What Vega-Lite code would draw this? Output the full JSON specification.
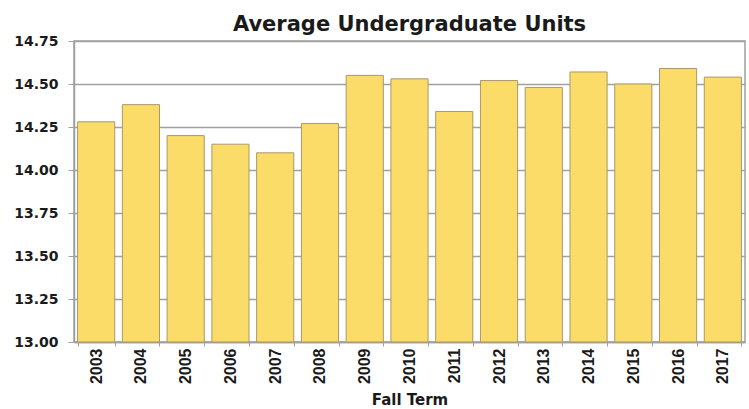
{
  "$schema": "https://vega.github.io/schema/vega-lite/v6.json",
  "width": 671,
  "height": 301,
  "autosize": "none",
  "padding": {"left": 74, "top": 41, "right": 4, "bottom": 67},
  "background": "white",
  "title": {"text": "Average Undergraduate Units", "font": "DejaVu Sans", "fontSize": 21, "fontWeight": "bold", "color": "#1a1a1a", "anchor": "middle", "offset": -1},
  "config": {
    "view": {"stroke": "#a0a0a0", "strokeWidth": 1.5},
    "font": "DejaVu Sans"
  },
  "data": {"values": [
    {"year": "2003", "units": 14.28},
    {"year": "2004", "units": 14.38},
    {"year": "2005", "units": 14.20},
    {"year": "2006", "units": 14.15},
    {"year": "2007", "units": 14.10},
    {"year": "2008", "units": 14.27},
    {"year": "2009", "units": 14.55},
    {"year": "2010", "units": 14.53},
    {"year": "2011", "units": 14.34},
    {"year": "2012", "units": 14.52},
    {"year": "2013", "units": 14.48},
    {"year": "2014", "units": 14.57},
    {"year": "2015", "units": 14.50},
    {"year": "2016", "units": 14.59},
    {"year": "2017", "units": 14.54}
  ]},
  "mark": {"type": "bar", "fill": "#fcdc68", "stroke": "#a8996a", "strokeWidth": 1},
  "encoding": {
    "x": {
      "field": "year", "type": "ordinal",
      "scale": {"paddingInner": 0.17, "paddingOuter": 0.08},
      "axis": {
        "title": "Fall Term", "titleFont": "DejaVu Sans", "titleFontSize": 15, "titleFontWeight": "bold", "titleColor": "#1a1a1a", "titlePadding": 9,
        "labelAngle": -90, "labelFont": "Liberation Sans", "labelFontSize": 16, "labelFontWeight": "bold", "labelColor": "#1a1a1a", "labelPadding": 2,
        "tickBand": "extent", "tickColor": "#a0a0a0", "tickSize": 4, "domainColor": "#a0a0a0", "domainWidth": 1.5
      }
    },
    "y": {
      "field": "units", "type": "quantitative",
      "scale": {"domain": [13, 14.75], "nice": false, "zero": false},
      "axis": {
        "title": null, "values": [13, 13.25, 13.5, 13.75, 14, 14.25, 14.5, 14.75], "format": ".2f",
        "labelFont": "DejaVu Sans", "labelFontSize": 14, "labelFontWeight": "bold", "labelColor": "#1a1a1a", "labelPadding": 10,
        "grid": true, "gridColor": "#a0a0a0", "gridWidth": 1.5,
        "tickColor": "#a0a0a0", "tickSize": 6, "domainColor": "#a0a0a0", "domainWidth": 1.5
      }
    },
    "y2": {"datum": 13}
  }
}
